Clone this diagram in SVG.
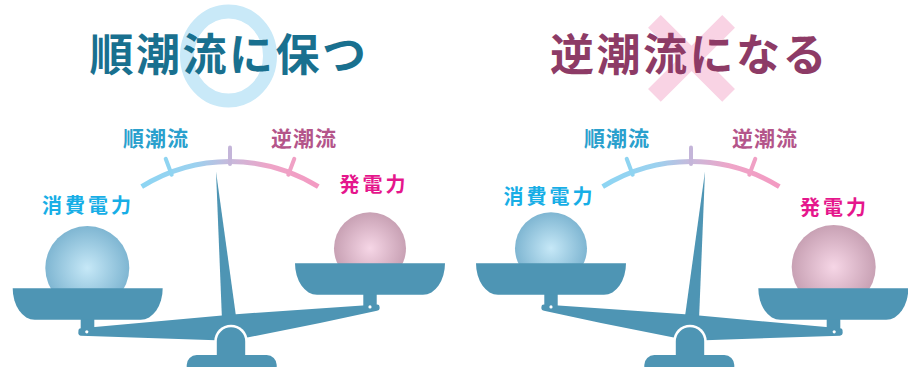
<svg xmlns="http://www.w3.org/2000/svg" width="908" height="367" viewBox="0 0 908 367">
  <defs>
    <style>
      .title{font-family:"Noto Sans CJK JP","Noto Sans CJK SC",sans-serif;font-weight:700;font-size:44px;letter-spacing:2.5px}
      .gauge-lbl{font-family:"Noto Sans CJK JP","Noto Sans CJK SC",sans-serif;font-weight:700;font-size:21px;letter-spacing:1px}
      .pan-lbl{font-family:"Noto Sans CJK JP","Noto Sans CJK SC",sans-serif;font-weight:700;font-size:20px;letter-spacing:3px}
      .metal{fill:#4e95b4}
      .tick{stroke-width:4;stroke-linecap:round;fill:none}
    </style>
    <linearGradient id="arcGrad" gradientUnits="userSpaceOnUse" x1="142" y1="0" x2="318" y2="0">
      <stop offset="0" stop-color="#8dd5f3"/>
      <stop offset="0.3" stop-color="#9bd1ef"/>
      <stop offset="0.5" stop-color="#c7b9db"/>
      <stop offset="0.72" stop-color="#eea5c8"/>
      <stop offset="1" stop-color="#f39ac2"/>
    </linearGradient>
    <radialGradient id="blueBall" cx="0.5" cy="0.5" r="0.5">
      <stop offset="0" stop-color="#c6e8f7"/>
      <stop offset="1" stop-color="#7fb6d2"/>
    </radialGradient>
    <radialGradient id="pinkBall" cx="0.5" cy="0.5" r="0.5">
      <stop offset="0" stop-color="#f6d6e6"/>
      <stop offset="1" stop-color="#c8a1b4"/>
    </radialGradient>

    <!-- dial: arc, three ticks and the two end labels -->
    <g id="gauge">
      <path d="M141.7,186.7 A167.5,167.5 0 0 1 318.3,186.7" fill="none" stroke="url(#arcGrad)" stroke-width="5"/>
      <line class="tick" x1="171.7" y1="174.7" x2="165.7" y2="158.8" stroke="#8fd4f1"/>
      <line class="tick" x1="230" y1="164" x2="230" y2="147.5" stroke="#c4b5d9"/>
      <line class="tick" x1="288.3" y1="174.7" x2="294.3" y2="158.8" stroke="#f0a1c5"/>
      <text class="gauge-lbl" x="123" y="145.5" fill="#2aa0cd">順潮流</text>
      <text class="gauge-lbl" x="271" y="145.5" fill="#b4558a">逆潮流</text>
    </g>

    <!-- balance: needle, beam, pans, pivot and foot (heavy side on the left) -->
    <g id="balance" class="metal">
      <path d="M216,171.5 L236.5,320 L222,320 Z"/>
      <path d="M78.5,330 Q78.5,328.4 81,328.2 L222,315.6 L236,314.2 L377,304.6 Q379.6,304.5 379.6,307 L379.6,308.6 Q379.6,310.4 377,310.8 L320,323 L246,337.8 L231,345 L216,340.2 L81,335.7 Q78.3,335.4 78.3,333 Z"/>
      <rect x="80.7" y="318" width="13.6" height="13"/>
      <rect x="363.3" y="293" width="13.4" height="13"/>
      <circle cx="86.8" cy="331.8" r="1.6" fill="#ffffff"/>
      <circle cx="370" cy="306.9" r="1.6" fill="#ffffff"/>
      <path d="M12.7,288.3 H162.7 A22,31.5 0 0 1 140.7,319.8 H34.7 A22,31.5 0 0 1 12.7,288.3 Z"/>
      <path d="M295,263.3 H445 A22,31.5 0 0 1 423,294.8 H317 A22,31.5 0 0 1 295,263.3 Z"/>
      <circle cx="231" cy="341.5" r="16.8" fill="#ffffff"/>
      <path d="M216.8,341.5 A14.2,14.2 0 0 1 245.2,341.5 V358 H216.8 Z"/>
      <rect x="186.7" y="355" width="90" height="24" rx="10"/>
    </g>
  </defs>

  <!-- headline marks -->
  <g id="title-forward">
    <ellipse cx="228.5" cy="56" rx="41.5" ry="44.5" fill="none" stroke="#c9e9f8" stroke-width="14"/>
    <text class="title" x="89.5" y="70.5" fill="#19708f">順潮流に保つ</text>
  </g>
  <g id="title-reverse">
    <path d="M654.4,21.4 L728.6,95.3 M728.6,21.4 L654.4,95.3" stroke="#f9d3e4" stroke-width="18" fill="none"/>
    <text class="title" x="550" y="70.5" fill="#8d3b66">逆潮流になる</text>
  </g>

  <!-- forward-flow balance -->
  <g id="panel-forward">
    <use href="#gauge"/>
    <circle cx="87.3" cy="268" r="42" fill="url(#blueBall)"/>
    <circle cx="370" cy="248.3" r="36" fill="url(#pinkBall)"/>
    <use href="#balance"/>
    <text class="pan-lbl" x="42" y="212.5" fill="#17aee6">消費電力</text>
    <text class="pan-lbl" x="339.5" y="191.8" fill="#e5168c">発電力</text>
  </g>

  <!-- reverse-flow balance (mirrored mechanism) -->
  <g id="panel-reverse">
    <use href="#gauge" transform="translate(461,0)"/>
    <circle cx="551" cy="248.3" r="36" fill="url(#blueBall)"/>
    <circle cx="833.7" cy="267" r="42" fill="url(#pinkBall)"/>
    <use href="#balance" transform="translate(921,0) scale(-1,1)"/>
    <text class="pan-lbl" x="503.5" y="203.5" fill="#17aee6">消費電力</text>
    <text class="pan-lbl" x="800" y="215" fill="#e5168c">発電力</text>
  </g>
</svg>
